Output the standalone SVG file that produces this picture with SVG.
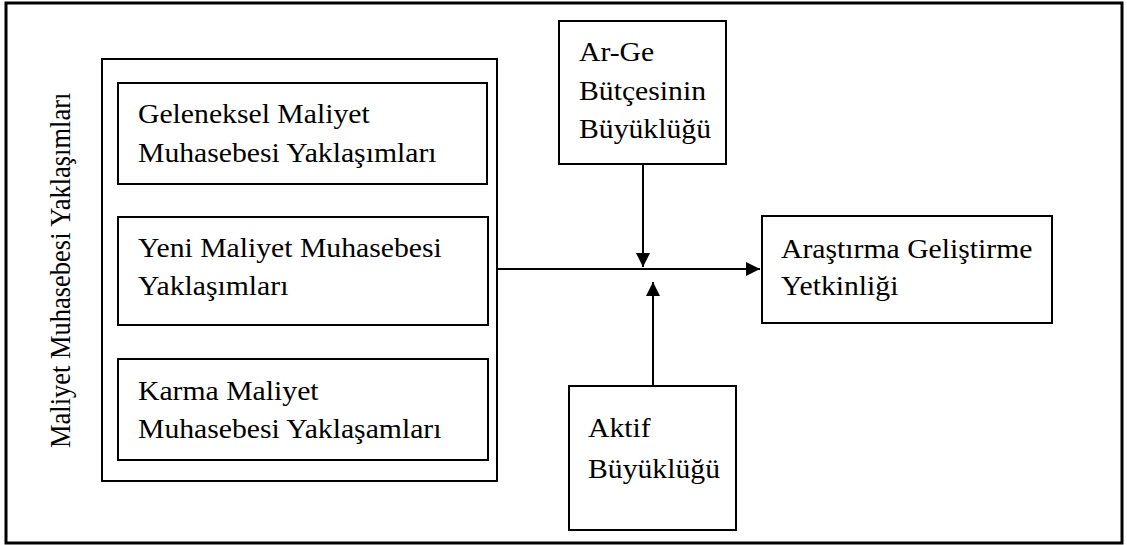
<svg xmlns="http://www.w3.org/2000/svg" width="1127" height="545" viewBox="0 0 1127 545">
<style>
.box{fill:#fff;stroke:#000;stroke-width:2}
.frame{fill:#fff;stroke:#000;stroke-width:3}
.t{font-family:"Liberation Serif","Times New Roman",serif;font-size:27px;fill:#000}
.c{stroke:#000;stroke-width:2;fill:none}
</style>
<defs>
<marker id="ah" viewBox="0 0 14 14" refX="14" refY="7" markerWidth="14" markerHeight="14" markerUnits="userSpaceOnUse" orient="auto">
<path d="M0,0 L14,7 L0,14 Z" fill="#000"/>
</marker>
</defs>
<rect class="frame" x="6" y="3" width="1116" height="540"/>
<g id="group-maliyet">
<rect class="box" x="102" y="59" width="395" height="422"/>
<text class="t" transform="translate(70,448) scale(1.1,1) rotate(-90)" style="font-size:26.5px">Maliyet Muhasebesi Yaklaşımları</text>
</g>
<g id="node-geleneksel">
<rect class="box" x="118" y="83" width="369" height="101"/>
<text class="t" transform="translate(138,123) scale(1.1,1)">Geleneksel Maliyet</text>
<text class="t" transform="translate(138,162) scale(1.1,1)">Muhasebesi Yaklaşımları</text>
</g>
<g id="node-yeni">
<rect class="box" x="118" y="217" width="370" height="108"/>
<text class="t" transform="translate(138,257) scale(1.1,1)">Yeni Maliyet Muhasebesi</text>
<text class="t" transform="translate(138,295) scale(1.1,1)">Yaklaşımları</text>
</g>
<g id="node-karma">
<rect class="box" x="118" y="359" width="370" height="101"/>
<text class="t" transform="translate(138,400) scale(1.1,1)">Karma Maliyet</text>
<text class="t" transform="translate(138,438) scale(1.1,1)">Muhasebesi Yaklaşamları</text>
</g>
<g id="node-arge">
<rect class="box" x="559" y="21" width="167" height="143"/>
<text class="t" transform="translate(579,61) scale(1.1,1)">Ar-Ge</text>
<text class="t" transform="translate(579,100) scale(1.1,1)">Bütçesinin</text>
<text class="t" transform="translate(579,138) scale(1.1,1)">Büyüklüğü</text>
</g>
<g id="node-aktif">
<rect class="box" x="569" y="386" width="167" height="144"/>
<text class="t" transform="translate(588,437) scale(1.1,1)">Aktif</text>
<text class="t" transform="translate(588,478) scale(1.1,1)">Büyüklüğü</text>
</g>
<g id="node-arastirma">
<rect class="box" x="762" y="216" width="290" height="107"/>
<text class="t" transform="translate(781,258) scale(1.1,1)">Araştırma Geliştirme</text>
<text class="t" transform="translate(781,295) scale(1.1,1)">Yetkinliği</text>
</g>
<g id="connectors">
<line class="c" x1="497" y1="269" x2="760" y2="269" marker-end="url(#ah)"/>
<line class="c" x1="643" y1="164" x2="643" y2="267" marker-end="url(#ah)"/>
<line class="c" x1="653" y1="386" x2="653" y2="282" marker-end="url(#ah)"/>
</g>
</svg>
